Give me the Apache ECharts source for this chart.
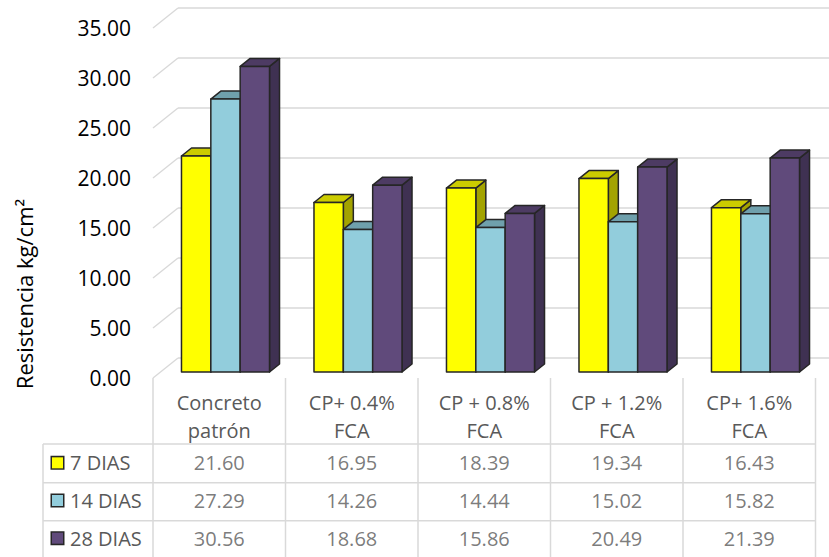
<!DOCTYPE html>
<html>
<head>
<meta charset="utf-8">
<script src="https://cdn.jsdelivr.net/npm/echarts@6/dist/echarts.min.js"></script>
<style>html,body{margin:0;padding:0;background:#fff;}#c{width:829px;height:557px;}</style>
</head>
<body>
<div id="c"></div>
<script>
var categories = ['Concreto\npatrón', 'CP+ 0.4%\nFCA', 'CP + 0.8%\nFCA', 'CP + 1.2%\nFCA', 'CP+ 1.6%\nFCA'];
var seriesNames = ['7 DIAS', '14 DIAS', '28 DIAS'];
var dias7 = [21.60, 16.95, 18.39, 19.34, 16.43];
var dias14 = [27.29, 14.26, 14.44, 15.02, 15.82];
var dias28 = [30.56, 18.68, 15.86, 20.49, 21.39];
var yTicks = [0, 5, 10, 15, 20, 25, 30, 35];
var axisTitle = 'Resistencia kg/cm²';

var FONT = 'Open Sans';
var GRID_C = '#d9d9d9';
var TXT = '#595959';
var faces = [
  {front: '#FFFF00', top: '#CCCC00', side: '#A3A300'},
  {front: '#92CDDC', top: '#6FA0AC', side: '#5E8C98'},
  {front: '#604A7B', top: '#4D3B63', side: '#3F3152'}
];
var allData = [dias7, dias14, dias28];
var DX = 10, DY = 8;

function barRender(s) {
  return function (params, api) {
    var ci = api.value(0), v = api.value(1);
    var base = api.coord([ci, 0]);
    var topP = api.coord([ci, v]);
    var band = api.size([1, 0])[0];
    var bw = band * 0.2215;
    var x0 = base[0] - 1.5 * bw + s * bw;
    var x1 = x0 + bw;
    var yt = topP[1], yb = base[1];
    var st = {stroke: '#262626', lineWidth: 1.5, lineJoin: 'round'};
    var f = faces[s];
    return {
      type: 'group',
      children: [
        {type: 'polygon', shape: {points: [[x1, yb], [x1 + DX, yb - DY], [x1 + DX, yt - DY], [x1, yt]]},
          style: Object.assign({fill: f.side}, st)},
        {type: 'polygon', shape: {points: [[x0, yt], [x1, yt], [x1 + DX, yt - DY], [x0 + DX, yt - DY]]},
          style: Object.assign({fill: f.top}, st)},
        {type: 'rect', shape: {x: x0, y: yt, width: bw, height: yb - yt},
          style: Object.assign({fill: f.front}, st)}
      ]
    };
  };
}

var series = [];
// side-wall diagonals
series.push({
  type: 'custom', xAxisIndex: 1, yAxisIndex: 1, silent: true,
  data: yTicks.map(function (t) { return [0, t]; }),
  renderItem: function (params, api) {
    var p = api.coord([0, api.value(1)]);
    var x = params.coordSys.x;
    return {type: 'line', shape: {x1: x, y1: p[1], x2: x + 25, y2: p[1] - 20},
      style: {stroke: GRID_C, lineWidth: 1.5}};
  },
  z: 1
});
seriesNames.forEach(function (n, s) {
  series.push({
    type: 'custom', name: n, xAxisIndex: 2, yAxisIndex: 2, silent: true,
    data: allData[s].map(function (v, i) { return [i, v]; }),
    encode: {x: 0, y: 1},
    renderItem: barRender(s),
    z: 3
  });
});
// data table values
var tableData = [];
allData.forEach(function (arr, r) {
  arr.forEach(function (v, c) { tableData.push([c, r, v]); });
});
series.push({
  type: 'scatter', xAxisIndex: 3, yAxisIndex: 3, silent: true,
  symbolSize: 1, itemStyle: {color: 'rgba(0,0,0,0)'},
  data: tableData,
  label: {show: true, position: 'inside', color: TXT, fontFamily: FONT, fontSize: 20,
    formatter: function (p) { return p.value[2].toFixed(2); }}
});

var xs = [153, 285.5, 418, 550.5, 683, 815.5];
var graphics = [];
xs.forEach(function (x) {
  graphics.push({type: 'line', silent: true, shape: {x1: x, y1: 378, x2: x, y2: 557}, style: {stroke: GRID_C, lineWidth: 1.5}});
});
graphics.push({type: 'line', silent: true, shape: {x1: 43, y1: 444, x2: 43, y2: 557}, style: {stroke: GRID_C, lineWidth: 1.5}});
[444, 482.7, 520.7].forEach(function (y) {
  graphics.push({type: 'line', silent: true, shape: {x1: 43, y1: y, x2: 815.5, y2: y}, style: {stroke: GRID_C, lineWidth: 1.5}});
});
graphics.push({type: 'text', silent: true, x: 24, y: 294, rotation: Math.PI / 2,
  style: {text: axisTitle, fill: '#000', font: '22px "Open Sans"', align: 'center', verticalAlign: 'middle'}});

var rich = {t: {fontFamily: FONT, fontSize: 20, color: TXT, padding: [0, 0, 0, 7]}};
faces.forEach(function (f, i) {
  rich['k' + i] = {width: 11, height: 11, backgroundColor: f.front, borderColor: '#262626', borderWidth: 1.5};
});

var hiddenX = function (gi) {
  return {type: 'category', gridIndex: gi, data: categories, show: false, boundaryGap: true};
};

var option = {
  animation: false,
  backgroundColor: '#fff',
  textStyle: {fontFamily: FONT},
  grid: [
    {left: 178, right: 0, top: 8, bottom: 199},
    {left: 153, right: 13.5, top: 28, bottom: 179},
    {left: 159.25, right: 7.25, top: 22, bottom: 185},
    {left: 153, right: 13.5, top: 444, bottom: 0}
  ],
  xAxis: [
    hiddenX(0),
    {type: 'category', gridIndex: 1, data: categories, boundaryGap: true,
      axisLine: {show: false}, axisTick: {show: false}, splitLine: {show: false},
      axisLabel: {margin: 10, color: TXT, fontFamily: FONT, fontSize: 20, lineHeight: 28, interval: 0}},
    hiddenX(2),
    hiddenX(3)
  ],
  yAxis: [
    {type: 'value', gridIndex: 0, min: 0, max: 35, interval: 5,
      axisLabel: {show: false}, axisLine: {show: false}, axisTick: {show: false},
      splitLine: {show: true, lineStyle: {color: GRID_C, width: 1.5}}},
    {type: 'value', gridIndex: 1, min: 0, max: 35, interval: 5,
      axisLine: {show: false}, axisTick: {show: false}, splitLine: {show: false},
      axisLabel: {margin: 22, color: '#000', fontFamily: FONT, fontSize: 21,
        formatter: function (v) { return v.toFixed(2); }}},
    {type: 'value', gridIndex: 2, min: 0, max: 35, interval: 5, show: false, splitLine: {show: false}},
    {type: 'category', gridIndex: 3, data: seriesNames, inverse: true,
      axisLine: {show: false}, axisTick: {show: false}, splitLine: {show: false},
      axisLabel: {align: 'left', margin: 101, rich: rich,
        formatter: function (v, i) { return '{k' + i + '|}{t|' + v + '}'; }}}
  ],
  graphic: graphics,
  series: series
};

var chart = echarts.init(document.getElementById('c'), null, {renderer: 'svg'});
chart.setOption(option);
</script>
</body>
</html>
